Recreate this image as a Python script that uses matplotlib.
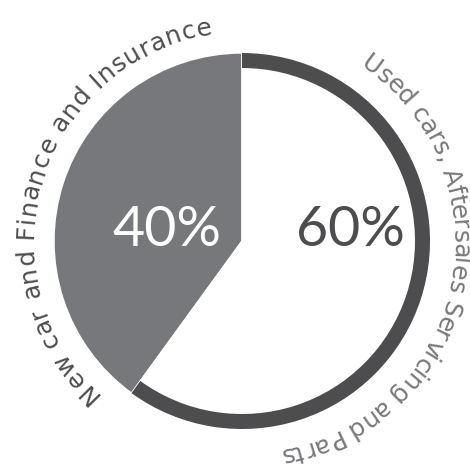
import numpy as np
import matplotlib
matplotlib.use("Agg")
import matplotlib.pyplot as plt
from matplotlib.font_manager import FontProperties

# data
shares = [40, 60]
share_labels = ["40%", "60%"]
segment_names = ["New car and Finance and Insurance",
                 "Used cars, Aftersales Servicing and Parts"]

GREY = "#77787c"
DARK = "#4d4d4f"

fig = plt.figure(figsize=(4.7, 4.7), dpi=100)
ax = fig.add_axes([0, 0, 1, 1])
cx, cy, R = 242, 229, 188
ring = 15

# filled pie: grey 40% slice, white 60% slice
ax.pie(shares, colors=[GREY, "white"], startangle=90, counterclock=True,
       radius=R, center=(cx, cy), frame=True,
       wedgeprops=dict(edgecolor="white", linewidth=1))
# dark ring on the 60% slice only
ax.pie(shares, colors=["none", DARK], startangle=90, counterclock=True,
       radius=R, center=(cx, cy), frame=True,
       wedgeprops=dict(width=ring, linewidth=0))

ax.set_xlim(0, 470)
ax.set_ylim(0, 470)
ax.set_aspect("equal")
ax.axis("off")

pct_font = dict(family="Lato", weight="normal", size=40)
ax.text(167, 240, share_labels[0], color="white", ha="center", va="center", **pct_font)
ax.text(350, 240, share_labels[1], color=DARK, ha="center", va="center", **pct_font)


def arc_text(s, start_deg, end_deg, r, color, size):
    # lay characters clockwise along a circle, tops pointing outward
    prop = FontProperties(family="DejaVu Sans", size=size)
    renderer = fig.canvas.get_renderer()
    base = renderer.get_text_width_height_descent("||", prop, ismath=False)[0]
    widths = [renderer.get_text_width_height_descent("|" + c + "|", prop, ismath=False)[0] - base
              for c in s]
    arc = np.radians(start_deg - end_deg) * r
    extra = (arc - sum(widths)) / (len(s) - 1)
    pos = 0.0
    for c, w in zip(s, widths):
        theta = np.radians(start_deg) - (pos + w / 2) / r
        ax.text(cx + r * np.cos(theta), cy + r * np.sin(theta), c,
                rotation=np.degrees(theta) - 90, rotation_mode="anchor",
                ha="center", va="baseline", color=color, fontproperties=prop)
        pos += w + extra


arc_text(segment_names[0], 227, 98, 209, DARK, 18)
arc_text(segment_names[1], 56, -80, 211, GREY, 18)

fig.savefig("out.png", dpi=100)
